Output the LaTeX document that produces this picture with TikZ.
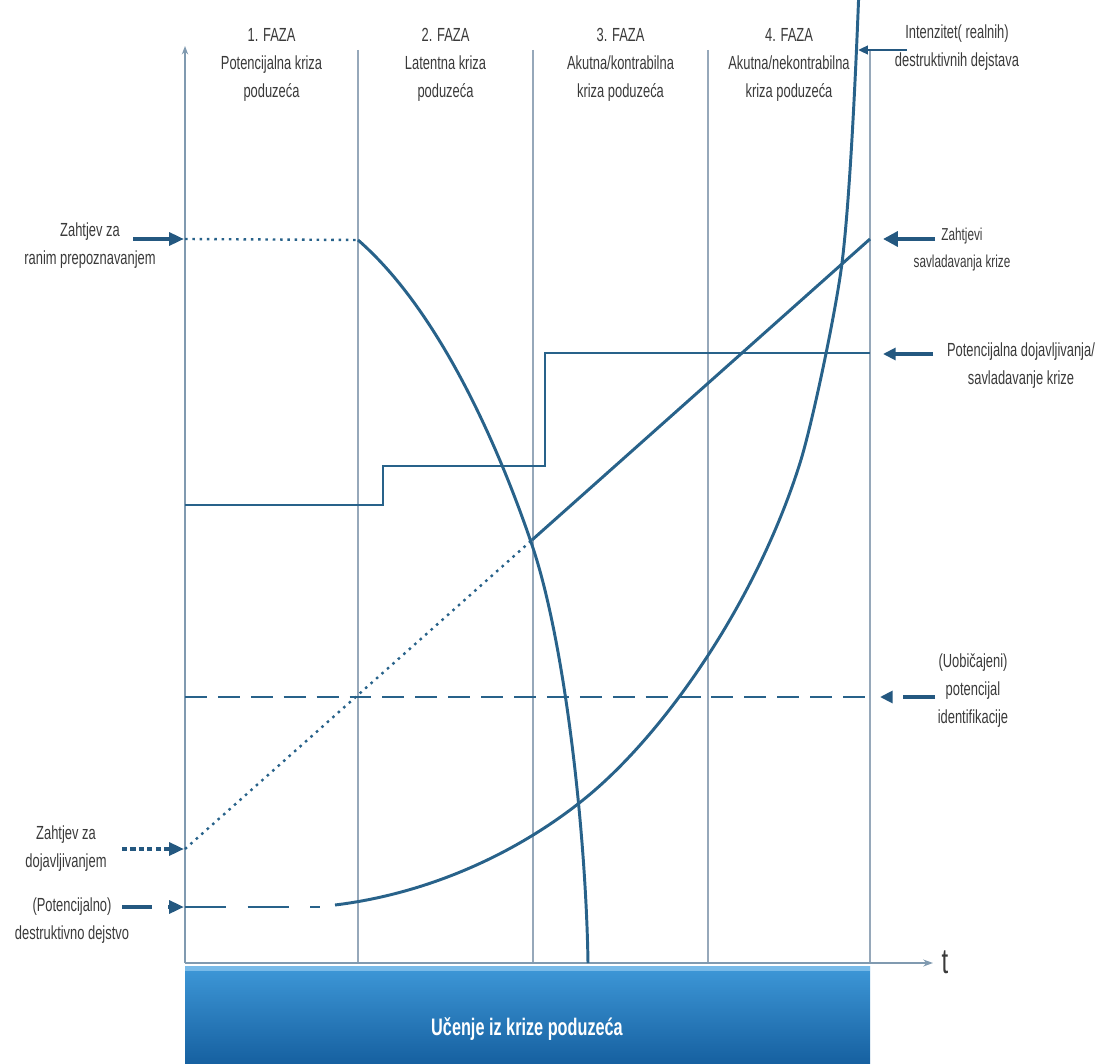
\documentclass[tikz,border=0pt]{standalone}
\usepackage{fontspec}
\setmainfont{Liberation Sans}[FakeStretch=0.68]
\usetikzlibrary{arrows.meta,positioning}
\definecolor{curveblue}{RGB}{40,98,138}
\definecolor{gridgray}{RGB}{150,168,186}
\definecolor{arrowblue}{RGB}{36,88,128}
\definecolor{labelgray}{RGB}{58,58,58}
\definecolor{bartop}{RGB}{62,152,216}
\definecolor{barbottom}{RGB}{22,96,160}
\definecolor{barhi}{RGB}{120,186,232}
\tikzset{
  note/.style={font=\fontsize{13.5}{19.9}\selectfont, text=labelgray, align=center, inner sep=0pt},
  smallnote/.style={note, font=\fontsize{12.3}{19.2}\selectfont},
  bartext/.style={font=\fontsize{17}{20}\selectfont\bfseries, text=white, inner sep=0pt},
  tlabel/.style={font=\fontsize{25}{28}\selectfont, text=labelgray, inner sep=0pt},
  phaseline/.style={draw=gridgray, line width=1pt},
  axisline/.style={draw=gridgray!80!curveblue, line width=1pt},
  curve/.style={draw=curveblue, line width=2.1pt},
  dotline/.style={draw=curveblue, line width=1.7pt, dash pattern=on 1.8pt off 3.4pt},
  inarrow/.style={draw=arrowblue, line width=3.5pt, -{Triangle[length=10.5pt,width=9pt]}},
  outarrow/.style={draw=arrowblue, line width=3.5pt, -{Triangle[length=10.5pt,width=10.5pt]}},
  thinout/.style={draw=arrowblue, line width=2.6pt, -{Triangle[length=9pt,width=8.5pt]}}
}
\begin{document}
\begin{tikzpicture}[x=0.025cm, y=-0.025cm]
\useasboundingbox (0,0) rectangle (1098,1064);
% learning bar
\shade[top color=bartop, bottom color=barbottom] (185,966) rectangle (870,1064);
\fill[barhi] (185,966) rectangle (870,971);
\node[bartext] (ucenje) at (527,1029) {Učenje iz krize poduzeća};
% phases and axes
\foreach \x in {358,533,708,870}
  \draw[phaseline] (\x,50) -- (\x,963);
\coordinate (O) at (185,963);
\coordinate (ytop) at (185,46);
\coordinate (tend) at (933,963);
\draw[axisline, -{Stealth[length=6pt,width=4.5pt]}] (O) -- (ytop);
\draw[axisline, -{Stealth[length=7pt,width=5pt]}] (O) -- (tend);
\node[tlabel] (tlab) at (945,962) {t};
% phase headers
\node[note, anchor=north] (faza1) at (271.5,28) {1. FAZA\\Potencijalna kriza\\poduzeća};
\node[note, anchor=north] (faza2) at (445.5,28) {2. FAZA\\Latentna kriza\\poduzeća};
\node[note, anchor=north] (faza3) at (620.5,28) {3. FAZA\\Akutna/kontrabilna\\kriza poduzeća};
\node[note, anchor=north] (faza4) at (789,28) {4. FAZA\\Akutna/nekontrabilna\\kriza poduzeća};
% labels left
\node[note, anchor=north] (ranim) at (90,222) {Zahtjev za\\ranim prepoznavanjem};
\node[note, anchor=north] (dojav) at (66,825) {Zahtjev za\\dojavljivanjem};
\node[note, anchor=north] (destr) at (72,897) {(Potencijalno)\\destruktivno dejstvo};
% labels right
\node[note, anchor=north] (intenz) at (957,24) {Intenzitet( realnih)\\destruktivnih dejstava};
\node[smallnote, anchor=north] (savl) at (962,228) {Zahtjevi\\savladavanja krize};
\node[note, anchor=north] (potdoj) at (1021,342) {Potencijalna dojavljivanja/\\savladavanje krize};
\node[note, anchor=north] (uobic) at (973,653) {(Uobičajeni)\\potencijal\\identifikacije};
% arrow ends
\coordinate (ranims) at (133,239);
\coordinate (ranime) at (184,239);
\coordinate (dojavs) at (122,849);
\coordinate (dojave) at (184,849);
\coordinate (destrs) at (122,907);
\coordinate (destre) at (184,907);
\coordinate (intenzs) at (907,50);
\coordinate (intenze) at (858,50);
\coordinate (savls) at (935,239);
\coordinate (savle) at (883,239);
\coordinate (potdojs) at (933,354);
\coordinate (potdoje) at (883,354);
\coordinate (uobics) at (935,697);
\coordinate (uobice) at (880,697);
\draw[inarrow] (ranims) -- (ranime);
\draw[inarrow, line width=2.8pt, dash pattern=on 3.6pt off 2.4pt] (dojavs) -- (dojave);
\draw[inarrow, dash pattern=on 21pt off 12pt] (destrs) -- (destre);
\draw[thinout, line width=1.8pt, -{Triangle[length=7pt,width=6pt]}] (intenzs) -- (intenze);
\draw[outarrow] (savls) -- (savle);
\draw[thinout] (potdojs) -- (potdoje);
\draw[thinout, line width=3pt, dash pattern=on 22.7pt off 20pt] (uobics) -- (uobice);
% curves
\coordinate (rstart) at (358,240);
\coordinate (rmid) at (532,545);
\coordinate (rend) at (588,963);
\coordinate (dstart) at (185,849);
\coordinate (kink) at (532,540);
\coordinate (dend) at (870,239);
\coordinate (istart) at (335,905);
\coordinate (ia) at (583,800);
\coordinate (ib) at (800,463);
\coordinate (ic) at (842,263);
\coordinate (iend) at (859,-12);
\draw[dotline] (185,239) -- (rstart);
\draw[curve] (rstart) .. controls (450,320) and (510,480) .. (rmid)
  .. controls (565,642) and (586,833) .. (rend);
\draw[curve] (185,505) -| (383,466) -| (545,353) -- (870,353);
\draw[dotline] (dstart) -- (kink);
\draw[curve] (kink) -- (dend);
\draw[curve, dash pattern=on 15.6pt off 7.8pt] (185,697) -- (870,697);
\draw[curve, dash pattern=on 29pt off 15.6pt] (185,907) -- (320,907);
\draw[curve] (istart) .. controls (425,894) and (513,856) .. (ia)
  .. controls (663,736) and (756,603) .. (ib)
  .. controls (812,425) and (836,311) .. (ic)
  .. controls (850,199) and (856,68) .. (iend);
\end{tikzpicture}
\end{document}
